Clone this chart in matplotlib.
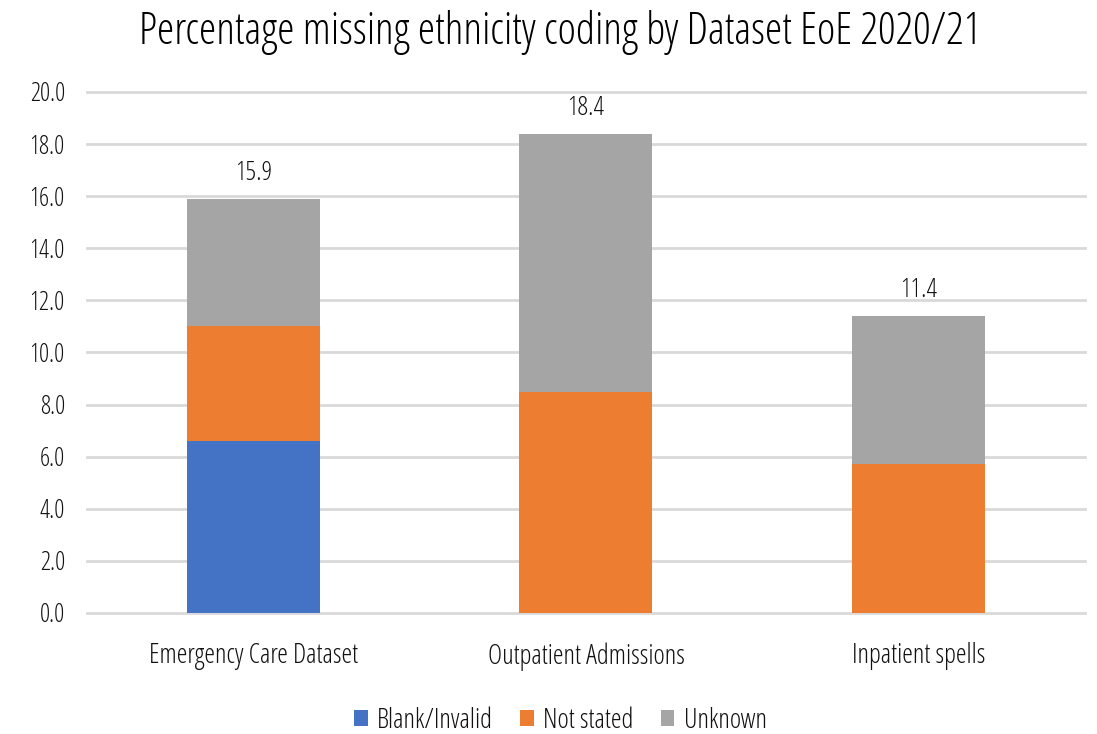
import matplotlib
matplotlib.use("Agg")
import matplotlib.pyplot as plt
import numpy as np

plt.rcParams['font.family'] = ['Open Sans', 'DejaVu Sans']
plt.rcParams['font.stretch'] = 'condensed'

categories = ["Emergency Care Dataset", "Outpatient Admissions", "Inpatient spells"]
blank_invalid = [6.6, 0.0, 0.0]
not_stated = [4.4, 8.5, 5.7]
unknown = [4.9, 9.9, 5.7]
series_names = ["Blank/Invalid", "Not stated", "Unknown"]
colors = ["#4472C4", "#ED7D31", "#A5A5A5"]

fig = plt.figure(figsize=(10.97, 7.34), dpi=100)
ax = fig.add_axes([0.0793, 0.1649, 0.9097, 0.7098])

x = np.arange(len(categories))
width = 0.40
bottom = np.zeros(len(categories))
for vals, name, col in zip([blank_invalid, not_stated, unknown], series_names, colors):
    vals = np.array(vals)
    ax.bar(x, vals, width, bottom=bottom, color=col, label=name, zorder=3)
    bottom += vals

totals = bottom
for xi, t in zip(x, totals):
    ax.annotate(f"{t:.1f}", (xi, t), xytext=(0, 9), textcoords="offset points",
                ha="center", va="bottom", fontsize=19, color="#111111")

ax.set_xlim(-0.5, 2.5)
ax.set_ylim(0, 20)
ax.set_yticks(np.arange(0, 20.1, 2))
ax.set_yticklabels([f"{v:.1f}" for v in np.arange(0, 20.1, 2)])
ax.set_xticks(x)
ax.set_xticklabels(categories)
ax.tick_params(axis="both", length=0, labelcolor="#111111")
ax.tick_params(axis="y", pad=16, labelsize=18)
ax.tick_params(axis="x", pad=21, labelsize=19.5)
ax.grid(axis="y", color="#D9D9D9", linewidth=2, zorder=0)
for gl in ax.get_ygridlines():
    gl.set_clip_on(False)
for s in ax.spines.values():
    s.set_visible(False)

fig.suptitle("Percentage missing ethnicity coding by Dataset EoE 2020/21",
             x=0.511, y=0.987, fontsize=31.7, color="#000000")

leg = fig.legend(loc="center", bbox_to_anchor=(0.511, 0.018), ncol=3, frameon=False,
                 fontsize=19.5, handlelength=0.5, handleheight=0.5, columnspacing=1.0,
                 handletextpad=0.35)
for t in leg.get_texts():
    t.set_color("#111111")

fig.savefig("out.png", dpi=100)
